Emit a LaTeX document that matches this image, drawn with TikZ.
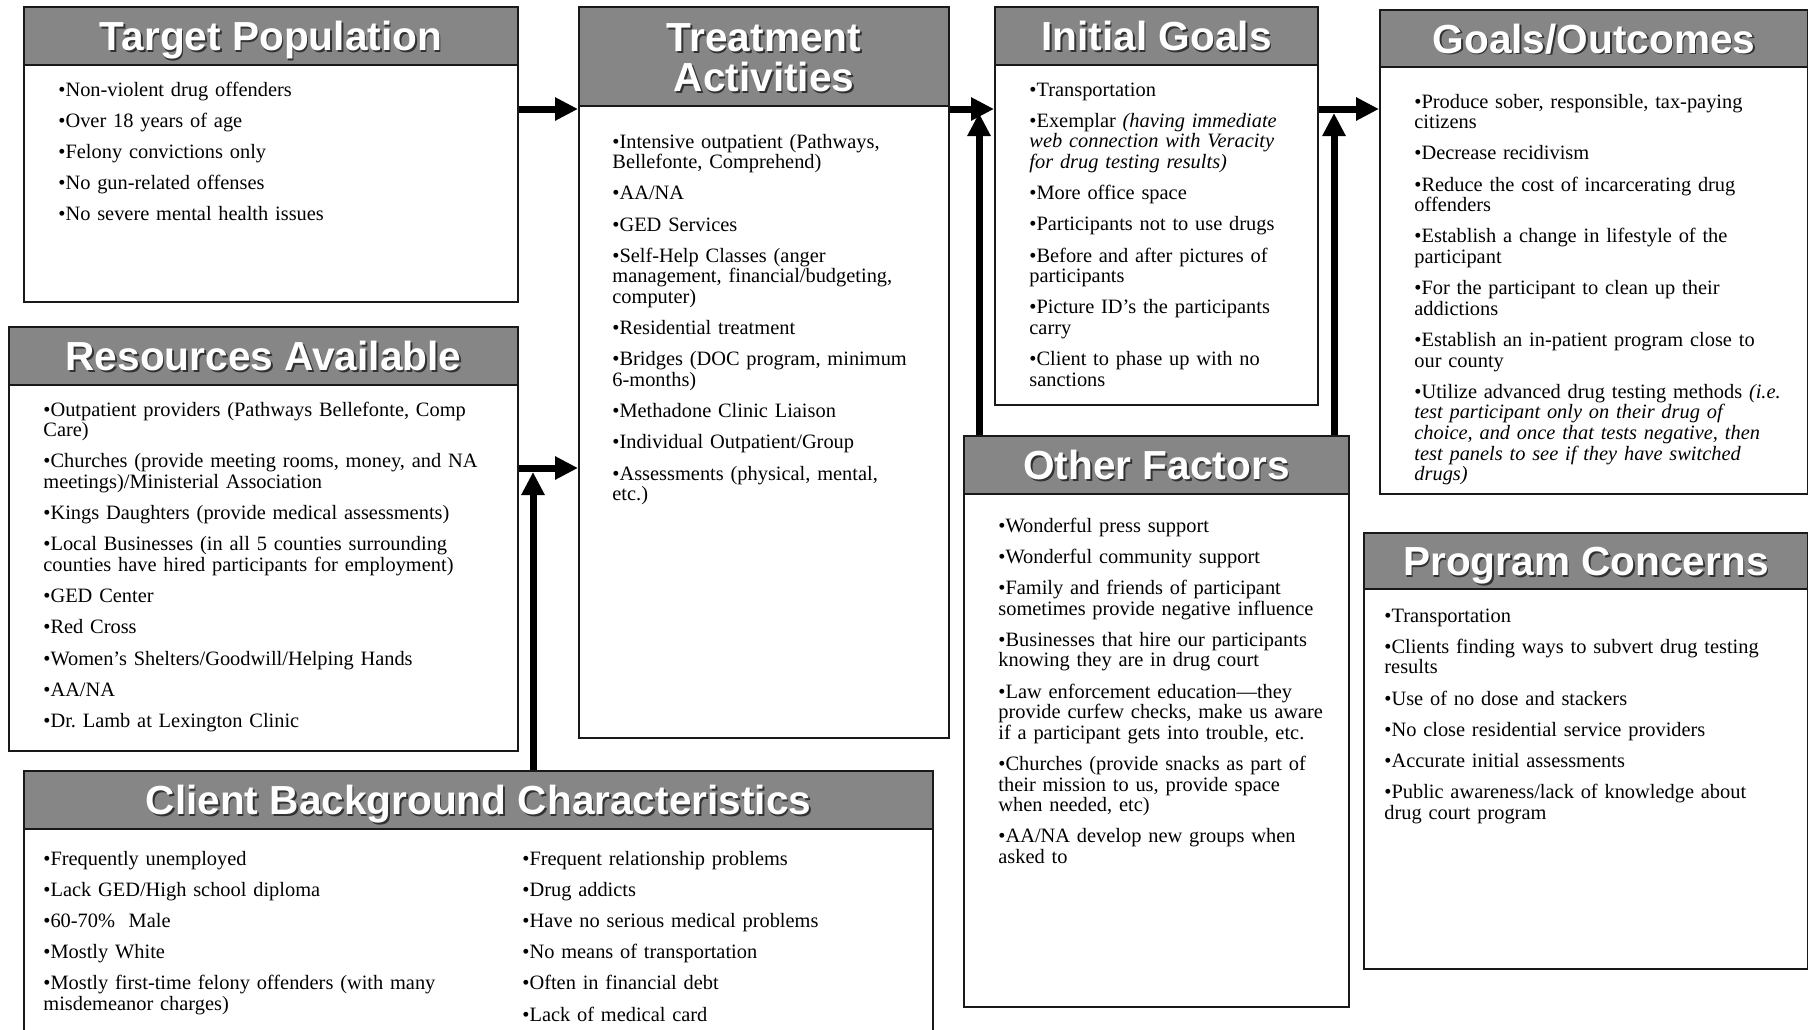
\documentclass[tikz,border=0pt]{standalone}
\usepackage{fontspec}
\setmainfont{Liberation Serif}
\newfontfamily\titlefont{Liberation Sans}
\usetikzlibrary{fit,arrows.meta}
\definecolor{hdrgray}{RGB}{134,134,134}
\definecolor{edgecol}{RGB}{25,25,25}
\definecolor{shadecol}{RGB}{50,50,50}
\frenchspacing
\tikzset{
  panel/.style={draw=edgecol, line width=1pt, fill=white, inner sep=0pt},
  hdr/.style={draw=edgecol, line width=1pt, fill=hdrgray, inner sep=0pt},
  ttlbase/.style={text=white, font=\titlefont\bfseries\fontsize{20.3pt}{20pt}\selectfont, align=center, inner sep=0pt},
  ttl/.style={ttlbase, text height=14.6pt, text depth=0pt},
  ttlsh/.style={ttl, text=shadecol, xshift=0.8pt, yshift=-0.8pt},
  ttltwo/.style={ttlbase, yshift=-0.6pt},
  ttltwosh/.style={ttltwo, text=shadecol, xshift=0.8pt, yshift=-0.8pt},
  body/.style={anchor=base west, inner sep=0pt, align=left, font=\fontsize{10.2pt}{10.3pt}\selectfont\frenchspacing},
  arr/.style={draw=black, line width=3.5pt, -{Triangle[length=11.5pt,width=11pt]}},
}
\begin{document}
\begin{tikzpicture}[x=0.5pt,y=-0.5pt]
\useasboundingbox (0,0) rectangle (1808,1029);
\fill[white] (0,0) rectangle (1808,1029);

% ---------- panels ----------
\node[panel, fit={(24,7) (518,302)}] (tgt) {};
\node[hdr, fit={(24,7) (518,65)}] (tgth) {};
\node[ttlsh] (tgtts) at (tgth.center) {Target Population};
\node[ttl] (tgtt) at (tgth.center) {Target Population};

\node[panel, fit={(579,7) (949,738)}] (trt) {};
\node[hdr, fit={(579,7) (949,106)}] (trth) {};
\node[ttltwosh] (trtts) at (trth.center) {Treatment\\Activities};
\node[ttltwo] (trtt) at (trth.center) {Treatment\\Activities};

\node[panel, fit={(995,7) (1318,405)}] (ig) {};
\node[hdr, fit={(995,7) (1318,65)}] (igh) {};
\node[ttlsh] (igts) at (igh.center) {Initial Goals};
\node[ttl] (igt) at (igh.center) {Initial Goals};

\node[panel, fit={(1380,10) (1808,494)}] (go) {};
\node[hdr, fit={(1380,10) (1808,67)}] (goh) {};
\node[ttlsh] (gots) at (goh.center) {Goals/Outcomes};
\node[ttl] (got) at (goh.center) {Goals/Outcomes};

\node[panel, fit={(9,327) (518,751)}] (res) {};
\node[hdr, fit={(9,327) (518,385)}] (resh) {};
\node[ttlsh] (rests) at (resh.center) {Resources Available};
\node[ttl] (rest) at (resh.center) {Resources Available};

\node[panel, fit={(964,436) (1349,1007)}] (oth) {};
\node[hdr, fit={(964,436) (1349,494)}] (othh) {};
\node[ttlsh] (othts) at (othh.center) {Other Factors};
\node[ttl] (otht) at (othh.center) {Other Factors};

\node[panel, fit={(1364,533) (1808,969)}] (pc) {};
\node[hdr, fit={(1364,533) (1808,589)}] (pch) {};
\node[ttlsh] (pcts) at (pch.center) {Program Concerns};
\node[ttl] (pct) at (pch.center) {Program Concerns};

\node[panel, fit={(24,771) (933,1040)}] (cli) {};
\node[hdr, fit={(24,771) (933,829)}] (clih) {};
\node[ttlsh] (clits) at (clih.center) {Client Background Characteristics};
\node[ttl] (clit) at (clih.center) {Client Background Characteristics};

% ---------- texts ----------
\node[body, text width=220pt] (tgtb) at (58,96) {%
•Non-violent drug offenders\\[5.3pt]
•Over 18 years of age\\[5.3pt]
•Felony convictions only\\[5.3pt]
•No gun-related offenses\\[5.3pt]
•No severe mental health issues};

\node[body, text width=160pt] (trtb) at (612,148) {%
•Intensive outpatient (Pathways,\\
Bellefonte, Comprehend)\\[5.3pt]
•AA/NA\\[5.3pt]
•GED Services\\[5.3pt]
•Self-Help Classes (anger\\
management, financial/budgeting,\\
computer)\\[5.3pt]
•Residential treatment\\[5.3pt]
•Bridges (DOC program, minimum\\
6-months)\\[5.3pt]
•Methadone Clinic Liaison\\[5.3pt]
•Individual Outpatient/Group\\[5.3pt]
•Assessments (physical, mental,\\
etc.)};

\node[body, text width=140pt] (igb) at (1029,96) {%
•Transportation\\[5.3pt]
•Exemplar \textit{(having immediate}\\
\textit{web connection with Veracity}\\
\textit{for drug testing results)}\\[5.3pt]
•More office space\\[5.3pt]
•Participants not to use drugs\\[5.3pt]
•Before and after pictures of\\
participants\\[5.3pt]
•Picture ID’s the participants\\
carry\\[5.3pt]
•Client to phase up with no\\
sanctions};

\node[body, text width=190pt] (gob) at (1414,108) {%
•Produce sober, responsible, tax-paying\\
citizens\\[5.3pt]
•Decrease recidivism\\[5.3pt]
•Reduce the cost of incarcerating drug\\
offenders\\[5.3pt]
•Establish a change in lifestyle of the\\
participant\\[5.3pt]
•For the participant to clean up their\\
addictions\\[5.3pt]
•Establish an in-patient program close to\\
our county\\[5.3pt]
•Utilize advanced drug testing methods \textit{(i.e.}\\
\textit{test participant only on their drug of}\\
\textit{choice, and once that tests negative, then}\\
\textit{test panels to see if they have switched}\\
\textit{drugs)}};

\node[body, text width=230pt] (resb) at (43,416) {%
•Outpatient providers (Pathways Bellefonte, Comp\\
Care)\\[5.3pt]
•Churches (provide meeting rooms, money, and NA\\
meetings)/Ministerial Association\\[5.3pt]
•Kings Daughters (provide medical assessments)\\[5.3pt]
•Local Businesses (in all 5 counties surrounding\\
counties have hired participants for employment)\\[5.3pt]
•GED Center\\[5.3pt]
•Red Cross\\[5.3pt]
•Women{\char"0027}s Shelters/Goodwill/Helping Hands\\[5.3pt]
•AA/NA\\[5.3pt]
•Dr. Lamb at Lexington Clinic};

\node[body, text width=170pt] (othb) at (998,532) {%
•Wonderful press support\\[5.3pt]
•Wonderful community support\\[5.3pt]
•Family and friends of participant\\
sometimes provide negative influence\\[5.3pt]
•Businesses that hire our participants\\
knowing they are in drug court\\[5.3pt]
•Law enforcement education—they\\
provide curfew checks, make us aware\\
if a participant gets into trouble, etc.\\[5.3pt]
•Churches (provide snacks as part of\\
their mission to us, provide space\\
when needed, etc)\\[5.3pt]
•AA/NA develop new groups when\\
asked to};

\node[body, text width=200pt] (pcb) at (1384,622) {%
•Transportation\\[5.3pt]
•Clients finding ways to subvert drug testing\\
results\\[5.3pt]
•Use of no dose and stackers\\[5.3pt]
•No close residential service providers\\[5.3pt]
•Accurate initial assessments\\[5.3pt]
•Public awareness/lack of knowledge about\\
drug court program};

\node[body, text width=205pt] (clib1) at (43,865) {%
•Frequently unemployed\\[5.3pt]
•Lack GED/High school diploma\\[5.3pt]
•60-70\%\ \ Male\\[5.3pt]
•Mostly White\\[5.3pt]
•Mostly first-time felony offenders (with many\\
misdemeanor charges)};

\node[body, text width=190pt] (clib2) at (522,865) {%
•Frequent relationship problems\\[5.3pt]
•Drug addicts\\[5.3pt]
•Have no serious medical problems\\[5.3pt]
•No means of transportation\\[5.3pt]
•Often in financial debt\\[5.3pt]
•Lack of medical card};

% ---------- connectors ----------
\coordinate (rowA) at (0,109);
\coordinate (rowB) at (0,468);
\coordinate (jB) at (533,472);
\coordinate (jA1) at (979,113);
\coordinate (jA2) at (1334,113);

\draw[arr] (tgt.east |- rowA) -- (trt.west |- rowA);
\draw[arr] (res.east |- rowB) -- (trt.west |- rowB);
\draw[arr] (cli.north -| jB) -- (jB);
\draw[arr] (trt.east |- rowA) -- (ig.west |- rowA);
\draw[arr] (oth.north -| jA1) -- (jA1);
\draw[arr] (ig.east |- rowA) -- (go.west |- rowA);
\draw[arr] (oth.north -| jA2) -- (jA2);
\end{tikzpicture}
\end{document}
